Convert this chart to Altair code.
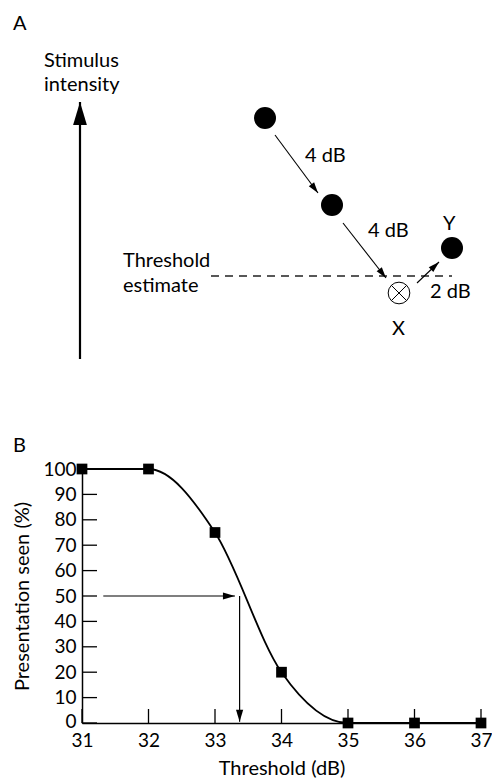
import altair as alt
import pandas as pd

# ---------------- Panel B: frequency-of-seeing curve ----------------
threshold_db = [31, 32, 33, 34, 35, 36, 37]
seen_pct = [100, 100, 75, 20, 0, 0, 0]
x_tick_values = [31, 32, 33, 34, 35, 36, 37]
y_tick_values = [0, 10, 20, 30, 40, 50, 60, 70, 80, 90, 100]

# 50 % read-off arrows (start -> tip)
b_arrow_x1 = [31.32, 33.37]
b_arrow_y1 = [50, 50]
b_arrow_x2 = [33.30, 33.37]
b_arrow_y2 = [50, 0.5]

# ---------------- Panel A: staircase schematic (figure units) ----------------
a_dot_x = [265, 332, 452]
a_dot_y = [118, 205, 248]
a_missed_x = [399]
a_missed_y = [293]
a_arrow_x1 = [275, 343, 417]
a_arrow_y1 = [135, 223, 283]
a_arrow_x2 = [318, 386, 439]
a_arrow_y2 = [193, 278, 262]
a_axis_x1 = [80]
a_axis_y1 = [359]
a_axis_x2 = [80]
a_axis_y2 = [102]
a_threshold_x1 = [211]
a_threshold_x2 = [452]
a_threshold_y = [276]
a_labels = ["A", "Stimulus", "intensity", "4 dB", "4 dB", "Y", "2 dB", "X",
            "Threshold", "estimate", "B"]
a_label_x = [13, 44, 44, 305, 368, 443, 430, 392, 123, 123, 13]
a_label_y = [30, 67, 91, 162, 237, 230, 298, 335, 267, 292, 452]

# ---------------- layout ----------------
W, H = 399, 254
PLOT_LEFT, PLOT_TOP = 82, 469
FONT = "Lato"
HEAD = "M0,0L0.3,1L-0.3,1Z"
CROSS = "M-0.7,-0.7L0.7,0.7M0.7,-0.7L-0.7,0.7"

bx = alt.Scale(domain=[31, 37], nice=False, zero=False)
by = alt.Scale(domain=[0, 100], nice=False, zero=False)
ax = alt.Scale(domain=[PLOT_LEFT, PLOT_LEFT + W], nice=False, zero=False)
ay = alt.Scale(domain=[PLOT_TOP, PLOT_TOP + H], nice=False, zero=False, reverse=True)

xaxis = alt.Axis(values=x_tick_values, ticks=False, grid=False, domain=True,
                 domainColor="black", domainWidth=1.5, labelFont=FONT,
                 labelFontSize=19, labelColor="black", labelPadding=8,
                 labelOverlap=False, labelFlush=False,
                 title="Threshold (dB)", titleFont=FONT, titleFontSize=20,
                 titleFontWeight="normal", titleColor="black", titlePadding=8)
yaxis = alt.Axis(values=y_tick_values, ticks=False, grid=False, domain=True,
                 domainColor="black", domainWidth=1.5, labelFont=FONT,
                 labelFontSize=19, labelColor="black", labelPadding=6,
                 labelOffset={"condition": {"test": "datum.value === 0", "value": -2},
                              "value": 0},
                 labelOverlap=False, labelFlush=False,
                 title="Presentation seen (%)", titleFont=FONT, titleFontSize=20,
                 titleFontWeight="normal", titleColor="black", titlePadding=10)

BX = lambda f: alt.X(f, scale=bx, axis=xaxis)
BY = lambda f: alt.Y(f, scale=by, axis=yaxis)
AX = lambda f: alt.X(f, scale=ax, axis=None)
AY = lambda f: alt.Y(f, scale=ay, axis=None)

df_b = pd.DataFrame({"threshold": threshold_db, "seen": seen_pct})
df_yt = pd.DataFrame({"seen": y_tick_values})
df_xt = pd.DataFrame({"threshold": x_tick_values})
df_barrow = pd.DataFrame({"threshold": b_arrow_x1, "seen": b_arrow_y1,
                          "threshold_end": b_arrow_x2, "seen_end": b_arrow_y2})

sx, sy = W / 6.0, H / 100.0
b_angle = f"(atan2((datum.threshold_end - datum.threshold) * {sx}, (datum.seen_end - datum.seen) * {sy}) * 180 / PI + 360) % 360"

curve = alt.Chart(df_b).mark_line(interpolate="monotone", color="black", strokeWidth=1.8).encode(
    x=BX("threshold:Q"), y=BY("seen:Q"))
squares = alt.Chart(df_b).mark_square(size=115, color="black", opacity=1).encode(
    x=BX("threshold:Q"), y=BY("seen:Q"))
ytick_rules = alt.Chart(df_yt).mark_rule(color="black", strokeWidth=1.3).encode(
    x=alt.value(0), x2=alt.value(15), y=BY("seen:Q"))
xtick_rules = alt.Chart(df_xt).mark_rule(color="black", strokeWidth=1.3).encode(
    x=BX("threshold:Q"), y=alt.value(H), y2=alt.value(H - 14))
b_lines = alt.Chart(df_barrow).mark_rule(color="black", strokeWidth=1.2).encode(
    x=BX("threshold:Q"), y=BY("seen:Q"), x2="threshold_end:Q", y2="seen_end:Q")
b_heads = alt.Chart(df_barrow).transform_calculate(angle=b_angle).mark_point(
    shape=HEAD, filled=True, size=576, color="black", opacity=1, strokeWidth=0).encode(
    x=BX("threshold_end:Q"), y=BY("seen_end:Q"), angle=alt.Angle("angle:Q", scale=None))

panel_b = alt.layer(curve, b_lines, b_heads, ytick_rules, xtick_rules, squares)

df_dots = pd.DataFrame({"x": a_dot_x, "y": a_dot_y})
df_missed = pd.DataFrame({"x": a_missed_x, "y": a_missed_y})
df_aarrow = pd.DataFrame({"x": a_arrow_x1, "y": a_arrow_y1, "x2": a_arrow_x2, "y2": a_arrow_y2})
df_aaxis = pd.DataFrame({"x": a_axis_x1, "y": a_axis_y1, "x2": a_axis_x2, "y2": a_axis_y2})
df_thr = pd.DataFrame({"x": a_threshold_x1, "x2": a_threshold_x2, "y": a_threshold_y})
df_lab = pd.DataFrame({"text": a_labels, "x": a_label_x, "y": a_label_y})

a_angle = "(atan2(datum.x2 - datum.x, datum.y - datum.y2) * 180 / PI + 360) % 360"

thr_line = alt.Chart(df_thr).mark_rule(color="#222", strokeWidth=1.3, strokeDash=[8, 6]).encode(
    x=AX("x:Q"), x2="x2:Q", y=AY("y:Q"))
a_lines = alt.Chart(df_aarrow).mark_rule(color="black", strokeWidth=1.1).encode(
    x=AX("x:Q"), y=AY("y:Q"), x2="x2:Q", y2="y2:Q")
a_heads = alt.Chart(df_aarrow).transform_calculate(angle=a_angle).mark_point(
    shape=HEAD, filled=True, size=484, color="black", opacity=1, strokeWidth=0).encode(
    x=AX("x2:Q"), y=AY("y2:Q"), angle=alt.Angle("angle:Q", scale=None))
axis_line = alt.Chart(df_aaxis).mark_rule(color="black", strokeWidth=2.2).encode(
    x=AX("x:Q"), y=AY("y:Q"), x2="x2:Q", y2="y2:Q")
axis_head = alt.Chart(df_aaxis).transform_calculate(angle=a_angle).mark_point(
    shape=HEAD, filled=True, size=2116, color="black", opacity=1, strokeWidth=0).encode(
    x=AX("x2:Q"), y=AY("y2:Q"), angle=alt.Angle("angle:Q", scale=None))
dots = alt.Chart(df_dots).mark_circle(size=484, color="black", opacity=1).encode(
    x=AX("x:Q"), y=AY("y:Q"))
missed_ring = alt.Chart(df_missed).mark_point(shape="circle", filled=False, size=470,
                                               color="black", strokeWidth=1, opacity=1).encode(
    x=AX("x:Q"), y=AY("y:Q"))
missed_cross = alt.Chart(df_missed).mark_point(shape=CROSS, filled=False, size=484,
                                                color="black", strokeWidth=1, opacity=1).encode(
    x=AX("x:Q"), y=AY("y:Q"))
labels = alt.Chart(df_lab).mark_text(align="left", baseline="alphabetic", font=FONT,
                                     fontSize=20, color="black").encode(
    x=AX("x:Q"), y=AY("y:Q"), text="text:N")

panel_a = alt.layer(thr_line, a_lines, a_heads, axis_line, axis_head, dots,
                    missed_ring, missed_cross, labels)

chart = alt.layer(panel_b, panel_a).resolve_scale(
    x="independent", y="independent"
).properties(
    width=W, height=H,
    autosize=alt.AutoSizeParams(type="none"),
    padding={"left": PLOT_LEFT, "top": PLOT_TOP, "right": 492 - PLOT_LEFT - W,
             "bottom": 778 - PLOT_TOP - H},
    background="white",
).configure_view(stroke=None)

chart.save("out.html", embed_options={"renderer": "svg", "actions": False})
